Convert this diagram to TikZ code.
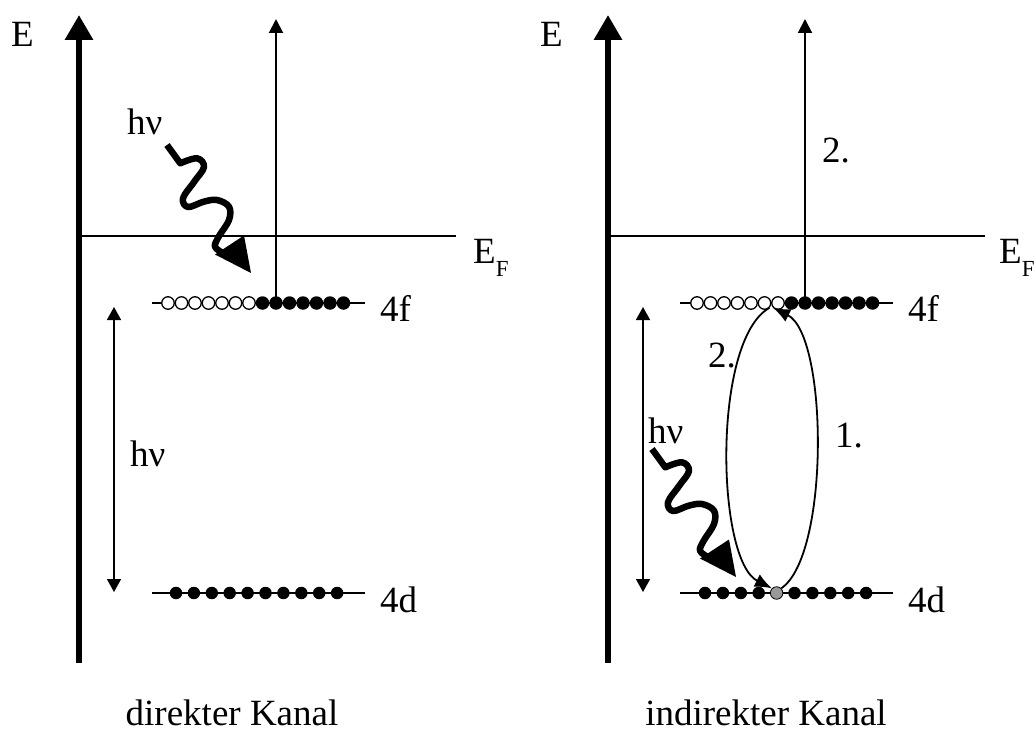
\documentclass[tikz,border=0pt]{standalone}
\usepackage{fontspec}
\setmainfont{Liberation Serif}
\usetikzlibrary{arrows.meta}
\begin{document}
\begin{tikzpicture}[x=1pt,y=-1pt,
  font=\fontsize{37}{44}\selectfont,
  axis/.style={line width=6pt,-{Triangle[width=27pt,length=25pt]}},
  thinarrow/.style={line width=2pt,-{Triangle[width=14pt,length=14pt]}},
  dblarrow/.style={line width=1.6pt,{Triangle[width=14pt,length=13pt]}-{Triangle[width=14pt,length=13pt]}},
  fermi/.style={line width=1.2pt},
  level/.style={line width=2.8pt},
  opendot/.style={circle,draw,line width=1.3pt,fill=white,minimum size=12.5pt,inner sep=0pt},
  filldot/.style={circle,fill=black,minimum size=13.5pt,inner sep=0pt},
  ddot/.style={circle,fill=black,minimum size=12.5pt,inner sep=0pt},
  graydot/.style={circle,draw,line width=0.8pt,fill=black!40,minimum size=12.5pt,inner sep=0pt},
  lbl/.style={inner sep=0pt,anchor=base west},
  loopArrow/.style={line width=1.8pt,-{Latex[width=14pt,length=17pt]}},
  photon/.pic={
    \draw[line width=6.5pt,line join=round] (0,0) -- (13.3,18.3) -- plot[smooth,tension=0.6] coordinates {(13.3,18.3) (30,13.3) (37,22) (27,37) (16,53.3) (21,62) (36.7,56.7) (50,55) (62,61.7) (62,75) (51.7,91.7) (48,101.7) (56,108)};
    \fill (48,109.5) -- (77,90.5) -- (84,128) -- cycle;
  }
]
\useasboundingbox (0,0) rectangle (1036,733);

% ---------- left panel: direkter Kanal ----------
\coordinate (LaxB) at (79,663);
\coordinate (LaxT) at (79,15);
\draw[axis] (LaxB) -- (LaxT);
\node[lbl] (LE) at (11,47) {E};
\coordinate (LFa) at (79,236);
\coordinate (LFb) at (456,236);
\draw[fermi] (LFa) -- (LFb);
\node[lbl] (LEF) at (473,263) {E\raisebox{-13pt}{\fontsize{23}{26}\selectfont F}};

\coordinate (Lfa) at (152,303);
\coordinate (Lfb) at (365,303);
\draw[level] (Lfa) -- (Lfb);
\coordinate (Lda) at (152,593);
\coordinate (Ldb) at (365,593);
\draw[level] (Lda) -- (Ldb);

\coordinate (Ltop) at (276,19);
\draw[thinarrow] (276,303) -- (Ltop);
\foreach \i in {1,...,7} \node[opendot] (Lf\i) at ({168+(\i-1)*13.5},303) {};
\foreach \i in {8,...,14} \node[filldot] (Lf\i) at ({168+(\i-1)*13.5},303) {};
\foreach \i in {1,...,10} \node[ddot] (Ld\i) at ({176+(\i-1)*17.9},593) {};

\node[lbl] (L4f) at (380,321) {4f};
\node[lbl] (L4d) at (380,612) {4d};

\coordinate (LdA) at (114,307);
\coordinate (LdB) at (114,592);
\draw[dblarrow] (LdA) -- (LdB);
\node[lbl] (Lhv2) at (130,466) {hν};

\pic at (167,145) {photon};
\node[lbl] (Lhv1) at (127,135) {hν};

\node[anchor=base,inner sep=0pt] (Lcap) at (232,725) {direkter Kanal};

% ---------- right panel: indirekter Kanal ----------
\coordinate (RaxB) at (608,663);
\coordinate (RaxT) at (608,15);
\draw[axis] (RaxB) -- (RaxT);
\node[lbl] (RE) at (540,47) {E};
\coordinate (RFa) at (608,236);
\coordinate (RFb) at (985,236);
\draw[fermi] (RFa) -- (RFb);
\node[lbl] (REF) at (999,263) {E\raisebox{-13pt}{\fontsize{23}{26}\selectfont F}};

\coordinate (Rfa) at (680,303);
\coordinate (Rfb) at (893,303);
\draw[level] (Rfa) -- (Rfb);
\coordinate (Rda) at (680,593);
\coordinate (Rdb) at (893,593);
\draw[level] (Rda) -- (Rdb);

\coordinate (Rtop) at (805,19);
\draw[thinarrow] (805,303) -- (Rtop);
\foreach \i in {1,...,7} \node[opendot] (Rf\i) at ({697+(\i-1)*13.5},303) {};
\foreach \i in {8,...,14} \node[filldot] (Rf\i) at ({697+(\i-1)*13.5},303) {};
\foreach \i in {1,...,4} \node[ddot] (Rd\i) at ({705+(\i-1)*17.9},593) {};
\node[graydot] (Rg) at ({705+4*17.9},593) {};
\foreach \i in {6,...,10} \node[ddot] (Rd\i) at ({705+(\i-1)*17.9},593) {};

\node[lbl] (R4f) at (908,321) {4f};
\node[lbl] (R4d) at (908,612) {4d};

\coordinate (RdA) at (643,307);
\coordinate (RdB) at (643,592);
\draw[dblarrow] (RdA) -- (RdB);

\draw[loopArrow] (Rg.north east) .. controls (830,555) and (828,335) .. (Rf7.south west);
\draw[loopArrow] (Rf6.south east) .. controls (712,340) and (716,560) .. (Rg.north west);

\node[lbl] (Rone) at (835,447) {1.};
\node[lbl] (Rtwoa) at (708,367) {2.};
\node[lbl] (Rtwob) at (822,162) {2.};

\pic at (652,449) {photon};
\node[lbl] (Rhv) at (648,443) {hν};

\node[anchor=base,inner sep=0pt] (Rcap) at (766,725) {indirekter Kanal};
\end{tikzpicture}
\end{document}
